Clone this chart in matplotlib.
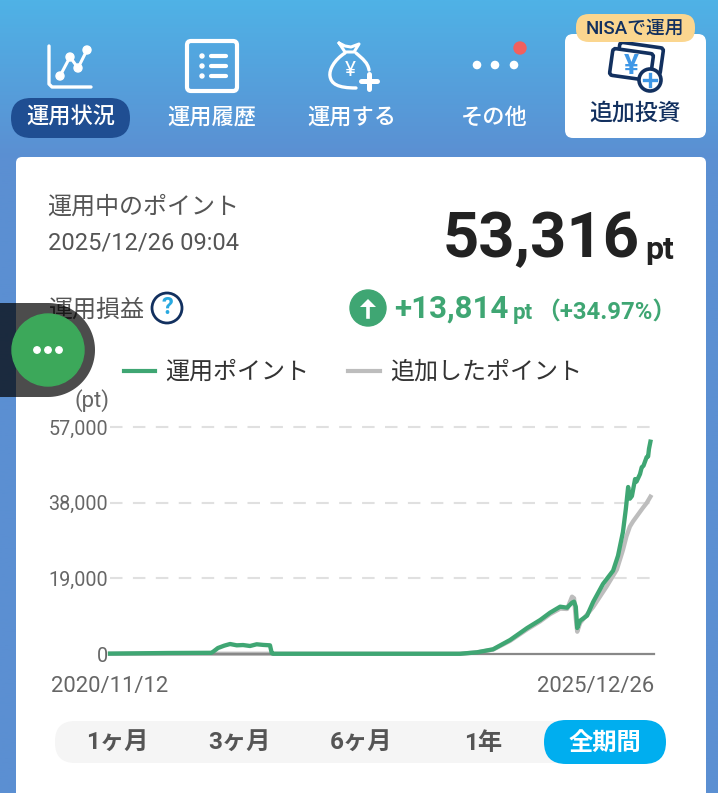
#!/usr/bin/env python3
"""Pantalla de la app de puntos: cabecera con iconos, resumen y curva de evolución."""
import matplotlib
matplotlib.use("Agg")
import matplotlib.pyplot as plt
from matplotlib.colors import LinearSegmentedColormap
from matplotlib.patches import Circle, FancyBboxPatch, PathPatch
from matplotlib.path import Path
from matplotlib.transforms import Affine2D, ScaledTranslation
import numpy as np

plt.rcParams["font.family"] = ["Roboto", "Noto Sans CJK JP", "DejaVu Sans"]

W, H = 718, 793

# days since 2020/11/12
GREEN_DAYS = [0, 200, 350, 357, 373, 395, 415, 438, 460, 484, 507, 530, 553, 556, 559, 563, 900, 1210,
              1269, 1324, 1383, 1442, 1487, 1521, 1556, 1580, 1597, 1604, 1610, 1615, 1625, 1649, 1670,
              1704, 1739, 1756, 1773, 1783, 1791, 1797, 1804, 1815, 1820, 1832, 1838, 1844, 1855, 1860,
              1863, 1868]
GREEN_VALUES = [100, 250, 300, 600, 1500, 2100, 2510, 2180, 2250, 2010, 2440, 2280, 2180, 1200, 250, 60,
                60, 60, 430, 1180, 3520, 6530, 8540, 10370, 11880, 11630, 12880, 13140, 11880, 6530,
                8360, 9620, 13060, 17580, 20920, 24690, 30630, 36400, 41930, 39000, 39660, 43930, 43300,
                45180, 46900, 47260, 49450, 49600, 51500, 53316]
GRAY_DAYS = [0, 1210, 1269, 1324, 1383, 1442, 1487, 1521, 1556, 1580, 1597, 1604, 1610, 1615, 1625,
             1670, 1717, 1752, 1773, 1785, 1797, 1808, 1820, 1842, 1855, 1868]
GRAY_VALUES = [60, 60, 400, 1100, 3300, 6200, 8200, 10000, 11400, 11300, 14400, 14000, 9000, 5600,
               7800, 11800, 17000, 21200, 26100, 29500, 32000, 33300, 34500, 36700, 37900, 39502]

Y_TICKS = [0, 19000, 38000, 57000]
Y_LABELS = ["0", "19,000", "38,000", "57,000"]
X_TICKS = [0, 1870]
X_LABELS = ["2020/11/12", "2025/12/26"]

NAV_LABELS = ["運用状況", "運用履歴", "運用する", "その他"]
NAV_CENTERS = [71, 212, 352, 494]
RANGE_LABELS = ["1ヶ月", "3ヶ月", "6ヶ月", "1年", "全期間"]
RANGE_CENTERS = [117, 239, 361, 483, 605]

GREEN = "#3FA673"
GRAY = "#BDBDBD"
NAVY = "#12305F"


def px_axes(fig, zorder):
    ax = fig.add_axes([0, 0, 1, 1], zorder=zorder)
    ax.set_xlim(0, W)
    ax.set_ylim(H, 0)
    ax.axis("off")
    ax.patch.set_alpha(0)
    return ax


def rbox(ax, x0, y0, x1, y1, r, **kw):
    kw.setdefault("lw", 0)
    p = FancyBboxPatch((x0 + r, y0 + r), x1 - x0 - 2 * r, y1 - y0 - 2 * r,
                       boxstyle=f"round,pad={r},rounding_size={r}", **kw)
    ax.add_patch(p)
    return p


def draw_nav_icons(ax):
    white = dict(color="white", solid_capstyle="round", solid_joinstyle="round", zorder=3)
    # chart icon
    ax.plot([49, 49, 52, 91], [46, 84, 87, 87], lw=2.4, **white)
    pts_x, pts_y = [60, 70, 78, 87], [76, 57, 68, 50]
    ax.plot(pts_x, pts_y, lw=2.2, **white)
    for x, y in zip(pts_x, pts_y):
        ax.add_patch(Circle((x, y), 4, color="white", zorder=3))
    # list icon
    rbox(ax, 187, 41, 237, 91, 4, fc="none", ec="white", lw=3, zorder=3)
    for y in (56, 66, 76):
        ax.add_patch(Circle((202, y), 2, color="white", zorder=3))
        ax.plot([211, 226], [y, y], lw=3, **white)
    # money bag icon
    verts = [(345, 53), (334, 60), (329, 70), (330, 76), (331, 84), (338, 88), (356, 88)]
    ax.add_patch(PathPatch(Path(verts, [Path.MOVETO] + [Path.CURVE4] * 6),
                           fc="none", ec="white", lw=2.4, capstyle="round", zorder=3))
    verts = [(356, 53), (363, 59), (368, 63), (369, 70)]
    ax.add_patch(PathPatch(Path(verts, [Path.MOVETO] + [Path.CURVE4] * 3),
                           fc="none", ec="white", lw=2.4, capstyle="round", zorder=3))
    ax.plot([339, 345, 351, 359, 354, 345, 339], [43, 46, 47, 44, 52, 52, 43], lw=2.2, **white)
    ax.text(350, 71, "¥", color="white", fontsize=15, ha="center", va="center", zorder=3)
    ax.plot([369, 369], [74, 89], lw=3.6, **white)
    ax.plot([361, 377], [81, 81], lw=3.6, **white)
    # more icon
    for x in (477, 495, 514):
        ax.add_patch(Circle((x, 65), 3.6, color="white", zorder=3))
    ax.add_patch(Circle((520, 48), 6, color="#F2605E", zorder=3))


def draw_wallet_icon(ax):
    for (x0, y0, x1, y1, deg) in ((618, 45, 662, 72, 8), (611, 51, 652, 78, 8)):
        p = rbox(ax, x0, y0, x1, y1, 3, fc="white", ec=NAVY, lw=2.6, zorder=3)
        p.set_transform(Affine2D().rotate_deg_around((x0 + x1) / 2, (y0 + y1) / 2, deg) + ax.transData)
    ax.text(631, 66, "¥", color="#3F97E6", fontsize=20, fontweight="bold", ha="center", va="center", zorder=4)
    ax.add_patch(Circle((650, 80), 11, fc="white", ec=NAVY, lw=2.6, zorder=4))
    ax.plot([650, 650], [74, 86], color="#3F97E6", lw=2.4, zorder=5)
    ax.plot([644, 656], [80, 80], color="#3F97E6", lw=2.4, zorder=5)


def draw_background(ax):
    cmap = LinearSegmentedColormap.from_list("head", ["#4FB2E6", "#5B8FD2"])
    grad = np.clip(np.linspace(0, H / 157, 400), 0, 1).reshape(-1, 1)
    ax.imshow(grad, cmap=cmap, extent=(0, W, H, 0), aspect="auto", zorder=0)
    ax.set_xlim(0, W)
    ax.set_ylim(H, 0)
    rbox(ax, 16, 157, 706, H + 20, 6, fc="white", zorder=1)


def draw_header(ax):
    rbox(ax, 11, 98, 130, 138, 20, fc="#1F4E92", zorder=2)
    for label, x in zip(NAV_LABELS, NAV_CENTERS):
        ax.text(x, 118, label, color="white", fontsize=16, fontweight="medium",
                ha="center", va="center", zorder=3)
    rbox(ax, 565, 34, 706, 138, 8, fc="white", zorder=2)
    draw_nav_icons(ax)
    draw_wallet_icon(ax)
    rbox(ax, 576, 14, 695, 42, 13, fc="#FBD68F", zorder=5)
    ax.text(635, 29, "NISAで運用", color=NAVY, fontsize=13.5, fontweight="medium",
            ha="center", va="center", zorder=6)
    ax.text(635, 113, "追加投資", color=NAVY, fontsize=16.5, fontweight="medium",
            ha="center", va="center", zorder=4)


def draw_summary(ax):
    ax.text(47, 207, "運用中のポイント", color="#555555", fontsize=17.3, va="center", zorder=3)
    ax.text(48, 243, "2025/12/26 09:04", color="#555555", fontsize=17, va="center", zorder=3)
    ax.text(640, 240, "53,316", color="#222222", fontsize=45.5, fontweight="bold",
            ha="right", va="center", zorder=3)
    ax.text(645, 250, "pt", color="#222222", fontsize=23, fontweight="bold", va="center", zorder=3)
    ax.text(48, 310, "運用損益", color="#555555", fontsize=17.3, va="center", zorder=3)
    ax.add_patch(Circle((167, 308), 15, fc="white", ec=NAVY, lw=2, zorder=3))
    ax.text(167, 308, "?", color="#29A9E0", fontsize=17, fontweight="bold",
            ha="center", va="center", zorder=4)
    ax.add_patch(Circle((368, 308), 18, color=GREEN, zorder=3))
    ax.plot([368, 368], [317, 305], color="white", lw=2.6, zorder=4)
    ax.fill([360, 368, 376], [307, 299, 307], color="white", lw=0, zorder=4)
    ax.text(394, 309, "+13,814", color=GREEN, fontsize=22.5, fontweight="bold", va="center", zorder=3)
    ax.text(513, 313, "pt", color=GREEN, fontsize=16, fontweight="bold", va="center", zorder=3)
    ax.text(536, 312, "（+34.97%）", color=GREEN, fontsize=17.2, fontweight="bold", va="center", zorder=3)


def draw_legend(ax):
    ax.plot([124, 155], [371, 371], color=GREEN, lw=3, zorder=3)
    ax.text(165, 372, "運用ポイント", color="#333333", fontsize=17.3, va="center", zorder=3)
    ax.plot([348, 380], [371, 371], color=GRAY, lw=3, zorder=3)
    ax.text(390, 372, "追加したポイント", color="#333333", fontsize=17.3, va="center", zorder=3)
    ax.text(109, 401, "(pt)", color="#666666", fontsize=16, ha="right", va="center", zorder=3)


def draw_range(ax):
    rbox(ax, 55, 721, 665, 763, 20, fc="#F5F5F5", zorder=2)
    rbox(ax, 544, 720, 666, 764, 22, fc="#00AEEF", zorder=3)
    for i, (label, x) in enumerate(zip(RANGE_LABELS, RANGE_CENTERS)):
        color = "white" if i == len(RANGE_LABELS) - 1 else "#555555"
        ax.text(x, 743, label, color=color, fontsize=17.5, fontweight="bold",
                ha="center", va="center", zorder=4)


def draw_chart(fig):
    left, right, top, bottom = 110, 654, 427, 654
    ax = fig.add_axes([left / W, 1 - bottom / H, (right - left) / W, (bottom - top) / H], zorder=2)
    ax.patch.set_alpha(0)
    ax.set_xlim(0, (right - left) * 1870 / 541)
    ax.set_ylim(0, 57000)
    for name in ("top", "left", "right"):
        ax.spines[name].set_visible(False)
    ax.spines["bottom"].set_color("#888888")
    ax.spines["bottom"].set_linewidth(1.6)
    for y in Y_TICKS[1:]:
        ax.axhline(y, color="#E0E0E0", lw=1.5, dashes=(6, 5), clip_on=False, zorder=1)
    ax.plot(GRAY_DAYS, GRAY_VALUES, color=GRAY, lw=3.1, clip_on=False, zorder=2,
            solid_joinstyle="round")
    ax.plot(GREEN_DAYS, GREEN_VALUES, color=GREEN, lw=3.1, clip_on=False, zorder=3,
            solid_joinstyle="round")
    ax.set_yticks(Y_TICKS, Y_LABELS, fontsize=14.2, color="#666666")
    ax.set_xticks(X_TICKS, X_LABELS, fontsize=15.8, color="#666666")
    ax.tick_params(length=0)
    ax.tick_params(axis="y", pad=1.5)
    ax.tick_params(axis="x", pad=16)
    last = ax.get_xticklabels()[1]
    last.set_ha("right")
    last.set_transform(last.get_transform() + ScaledTranslation(2 / 72, 0, fig.dpi_scale_trans))


def draw_float_button(ax):
    ax.fill_between([0, 48], 303, 397, color="black", alpha=0.7, lw=0, zorder=5)
    t = np.radians(np.arange(-90, 91, 3))
    ax.fill(48 + 47 * np.cos(t), 350 + 47 * np.sin(t), color="black", alpha=0.7, lw=0, zorder=5)
    ax.add_patch(Circle((48, 350), 36, color="#3CA85A", zorder=6))
    for x in (37, 48, 59):
        ax.add_patch(Circle((x, 350), 3.2, color="white", zorder=7))


def main():
    fig = plt.figure(figsize=(W / 100, H / 100), dpi=100)
    back = px_axes(fig, 0)
    draw_background(back)
    draw_header(back)
    draw_summary(back)
    draw_legend(back)
    draw_range(back)
    draw_chart(fig)
    draw_float_button(px_axes(fig, 3))
    fig.savefig("out.png", dpi=100)
    plt.close(fig)


if __name__ == "__main__":
    main()
